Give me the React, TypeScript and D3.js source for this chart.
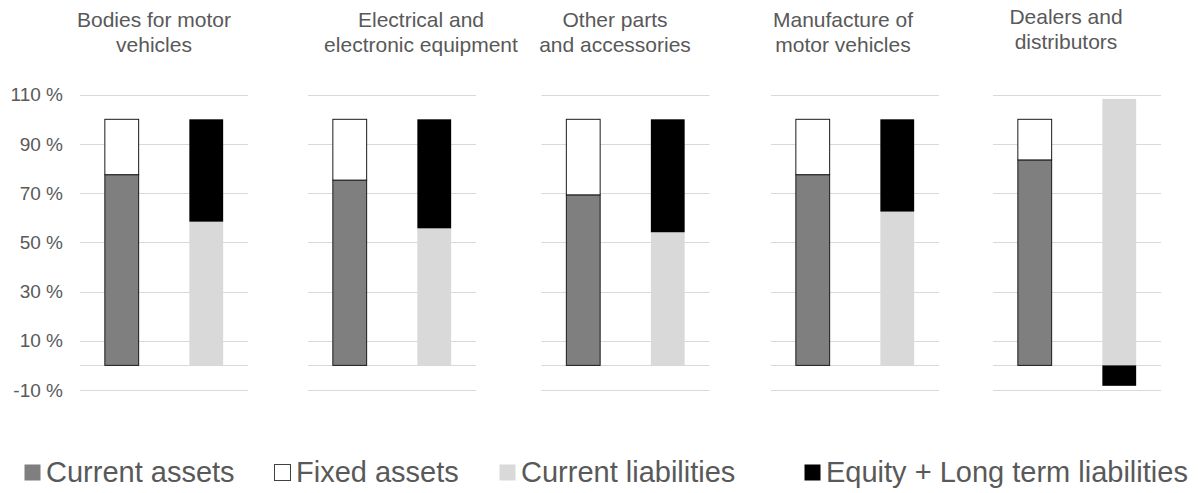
import React from "react";
import * as d3 from "d3";

// Industry groups (one small chart panel each)
const industries = [
  ["Bodies for motor", "vehicles"],
  ["Electrical and", "electronic equipment"],
  ["Other parts", "and accessories"],
  ["Manufacture of", "motor vehicles"],
  ["Dealers and", "distributors"],
];

// Balance sheet structure, % of total
const currentAssets = [77.5, 75.3, 69.3, 77.5, 83.5];
const fixedAssets = [22.5, 24.7, 30.7, 22.5, 16.5];
const currentLiabilities = [58.4, 55.7, 54.1, 62.5, 108.3];
const equityLongTerm = [41.6, 44.3, 45.9, 37.5, -8.3];

const yTicks = [-10, 10, 30, 50, 70, 90, 110];
const legendLabels = [
  "Current assets",
  "Fixed assets",
  "Current liabilities",
  "Equity + Long term liabilities",
];

// Layout
const W = 1198;
const H = 493;
const panelLeft = [80, 308, 541.5, 771, 993];
const panelWidth = 168;
const titleCenter = [154, 421, 615, 843, 1066];
const titleShift = [0, 0, 0, 0, -3];
const legendX = [24, 274, 499, 804];

const TEXT = "#595959";
const GRID = "#d9d9d9";
const FONT = "'Liberation Sans', Arial, sans-serif";

type Seg = { key: string; y0: number; y1: number; fill: string; stroke: string };

const seriesStyle: Record<string, { fill: string; stroke: string }> = {
  ca: { fill: "#7f7f7f", stroke: "#1a1a1a" },
  fa: { fill: "#ffffff", stroke: "#1a1a1a" },
  cl: { fill: "#d9d9d9", stroke: "none" },
  eq: { fill: "#000000", stroke: "none" },
};

export default function App() {
  const y = d3.scaleLinear().domain([-10, 110]).range([390, 94.7]);
  const xBar = d3
    .scaleBand<string>()
    .domain(["assets", "liabilities"])
    .range([0, panelWidth])
    .paddingInner(0.6)
    .paddingOuter(0.294);

  // Diverging stacks: positives stack upward from 0, negatives downward
  const stackRows = industries.map((_, i) => ({
    ca: currentAssets[i],
    fa: fixedAssets[i],
    cl: currentLiabilities[i],
    eq: equityLongTerm[i],
  }));
  const assetStack = d3.stack<any>().keys(["ca", "fa"]).offset(d3.stackOffsetDiverging)(stackRows);
  const liabStack = d3.stack<any>().keys(["cl", "eq"]).offset(d3.stackOffsetDiverging)(stackRows);

  const segsFor = (stack: d3.Series<any, string>[], i: number): Seg[] =>
    stack.map((s) => ({
      key: s.key,
      y0: s[i][0],
      y1: s[i][1],
      ...seriesStyle[s.key],
    }));

  const gridY = (v: number) => Math.round(y(v)) + 0.5;
  const gridLines = [...yTicks, 0];

  const legendStyles = [seriesStyle.ca, seriesStyle.fa, seriesStyle.cl, seriesStyle.eq];

  return (
    <svg
      width={W}
      height={H}
      style={{ position: "absolute", left: 0, top: 0, background: "#fff" }}
      fontFamily={FONT}
    >
      <rect width={W} height={H} fill="#fff" />

      {/* y axis labels */}
      {yTicks.map((t) => (
        <text
          key={t}
          x={63}
          y={y(t)}
          dy="0.35em"
          textAnchor="end"
          fontSize={19}
          fill={TEXT}
        >
          {`${t} %`}
        </text>
      ))}

      {industries.map((lines, i) => {
        const px = panelLeft[i];
        const assets = segsFor(assetStack, i);
        const liabs = segsFor(liabStack, i);
        return (
          <g key={i}>
            {/* title */}
            <text
              x={titleCenter[i]}
              y={27 + titleShift[i]}
              textAnchor="middle"
              fontSize={21}
              fill={TEXT}
            >
              {lines.map((ln, k) => (
                <tspan key={k} x={titleCenter[i]} dy={k === 0 ? 0 : 24.5}>
                  {ln}
                </tspan>
              ))}
            </text>

            {/* gridlines */}
            {gridLines.map((t) => (
              <line
                key={t}
                x1={px}
                x2={px + panelWidth}
                y1={gridY(t)}
                y2={gridY(t)}
                stroke={GRID}
                strokeWidth={1}
              />
            ))}

            {/* bars */}
            {[
              { band: "assets", segs: assets },
              { band: "liabilities", segs: liabs },
            ].map(({ band, segs }) =>
              segs.map((s) => {
                const top = y(Math.max(s.y0, s.y1));
                const bot = y(Math.min(s.y0, s.y1));
                return (
                  <rect
                    key={band + s.key}
                    x={px + (xBar(band) as number)}
                    y={top}
                    width={xBar.bandwidth()}
                    height={bot - top}
                    fill={s.fill}
                    stroke={s.stroke}
                    strokeWidth={1}
                  />
                );
              })
            )}
          </g>
        );
      })}

      {/* legend */}
      {legendLabels.map((lab, i) => (
        <g key={lab}>
          <rect
            x={legendX[i] + 0.5}
            y={464.5}
            width={16}
            height={16}
            fill={legendStyles[i].fill}
            stroke={i === 1 ? "#404040" : "none"}
            strokeWidth={1}
          />
          <text x={legendX[i] + 22} y={482} fontSize={29} fill={TEXT}>
            {lab}
          </text>
        </g>
      ))}
    </svg>
  );
}
